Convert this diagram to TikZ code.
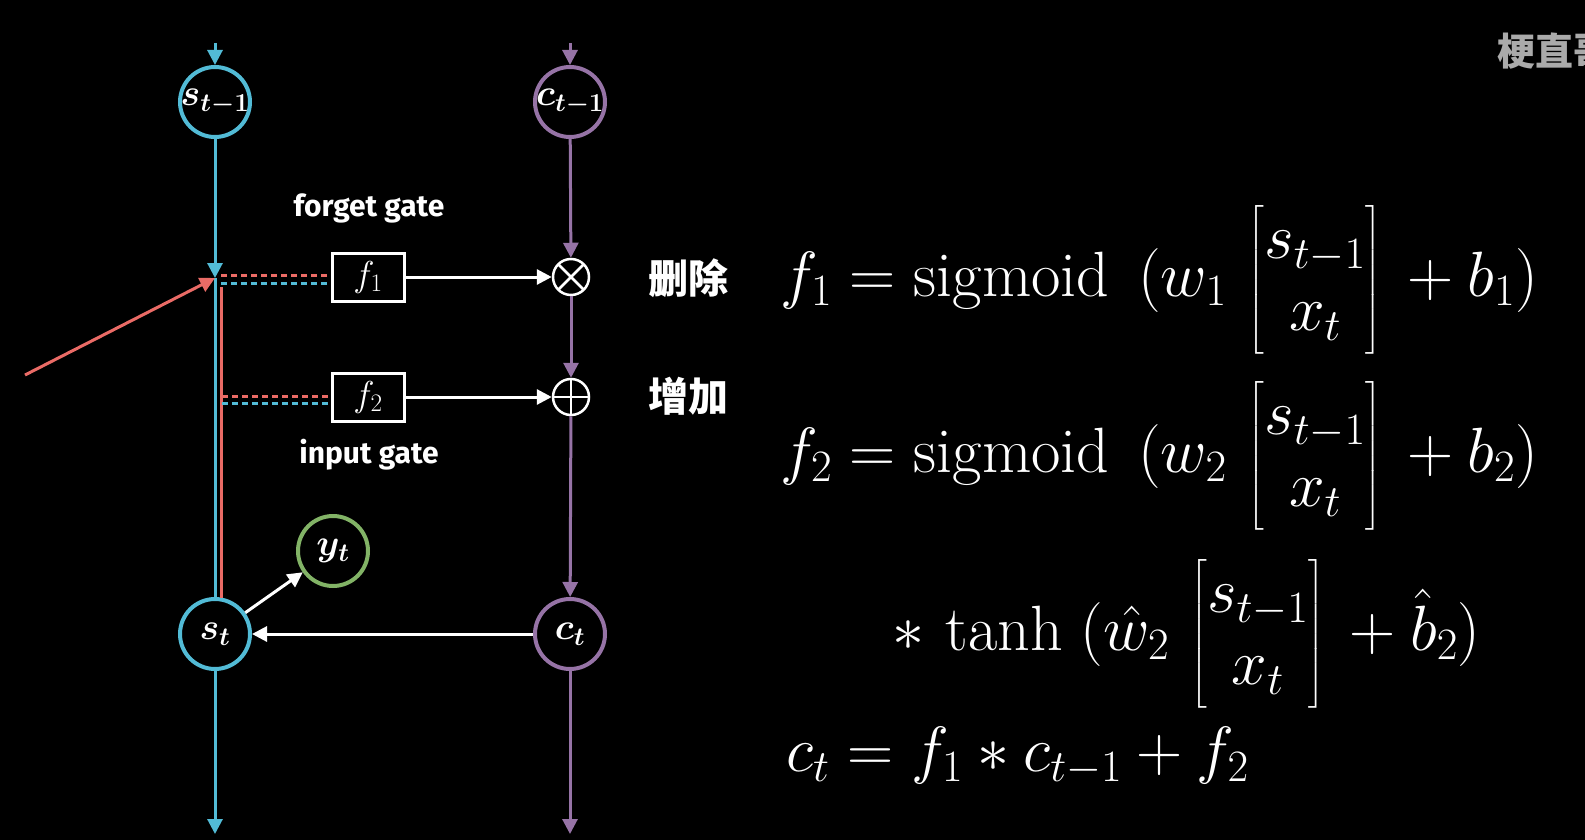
\RequirePackage{fix-cm}
\documentclass[tikz,border=0pt]{standalone}
\usepackage{amsmath}
\usepackage{bm}
\usepackage{fontspec}
\newfontfamily\cjk{Noto Sans CJK SC}
\newfontfamily\handfont{Fira Sans}
\usetikzlibrary{arrows.meta}
\definecolor{cy}{HTML}{52BBD6}
\definecolor{pu}{HTML}{9673A6}
\definecolor{gr}{HTML}{82B366}
\definecolor{rd}{HTML}{EA6B66}
\definecolor{wm}{HTML}{AAAAAA}
\begin{document}
\begin{tikzpicture}[x=1pt,y=-1pt,
  tip/.style={-{Triangle[length=15pt,width=15pt]}},
  cnode/.style={circle, draw=#1, line width=4pt, minimum size=70pt, inner sep=0pt, fill=black, text=white, font=\fontsize{37}{40}\selectfont},
  gbox/.style={draw=white, line width=3pt, minimum width=72pt, minimum height=48pt, inner sep=0pt, fill=black, text=white, font=\fontsize{36}{38}\selectfont},
  opnode/.style={circle, draw=white, line width=2.5pt, minimum size=36pt, inner sep=0pt, fill=black},
  cyl/.style={cy, line width=3pt},
  pul/.style={pu, line width=3pt},
  rdl/.style={rd, line width=3pt},
  wl/.style={white, line width=3pt},
  dashl/.style={line width=3pt, dash pattern=on 6pt off 4pt},
  gatelabel/.style={text=white, font=\handfont\bfseries\fontsize{30}{32}\selectfont},
  cjklabel/.style={text=white, font=\cjk\bfseries\fontsize{40}{44}\selectfont},
  eq/.style={text=white, anchor=west, inner sep=0pt, font=\fontsize{64}{72}\selectfont}
]
\fill[black] (0,0) rectangle (1585,840);
\useasboundingbox (0,0) rectangle (1585,840);

% nodes
\node[cnode=cy] (s0) at (215,102) {\makebox[0pt]{$\bm{s_{t-1}}$}};
\node[cnode=pu] (c0) at (570,102) {\makebox[0pt]{$\bm{c_{t-1}}$}};
\node[cnode=cy] (s1) at (215,634) {\makebox[0pt]{$\bm{s_{t}}$}};
\node[cnode=pu] (c1) at (570,634) {\makebox[0pt]{$\bm{c_{t}}$}};
\node[cnode=gr] (y1) at (333,551) {\makebox[0pt]{$\bm{y_{t}}$}};
\node[gbox] (f1) at (368,277) {$f_1$};
\node[gbox] (f2) at (368,397) {$f_2$};
\node[opnode, path picture={\draw[white,line width=2.5pt] (path picture bounding box.north west) -- (path picture bounding box.south east) (path picture bounding box.north east) -- (path picture bounding box.south west);}] (mul) at (571,277) {};
\node[opnode, path picture={\draw[white,line width=2.5pt] (path picture bounding box.north) -- (path picture bounding box.south) (path picture bounding box.east) -- (path picture bounding box.west);}] (add) at (571,397) {};

% coordinates
\coordinate (sin) at (215,43);
\coordinate (cin) at (570,43);
\coordinate (sout) at (215,834);
\coordinate (cout) at (570,834);
\coordinate (J) at (215,278);
\coordinate (R0) at (25,375);
\coordinate (Rtop) at (221,287);
\coordinate (Rbot) at (221,598);
\coordinate (D1r) at (221,275);
\coordinate (D1c) at (221,283);
\coordinate (D2r) at (222,396);
\coordinate (D2c) at (222,403);

% cyan path
\draw[cyl,tip] (sin) -- (s0);
\draw[cyl,tip] (s0) -- (J);
\draw[rdl] (Rtop) -- (Rbot);
\draw[cyl] (J) -- (s1);
\draw[cyl,tip] (s1) -- (sout);
\draw[rdl,tip] (R0) -- (J);

% purple path
\draw[pul,tip] (cin) -- (c0);
\draw[pul,tip] (c0) -- (mul);
\draw[pul,tip] (mul) -- (add);
\draw[pul,tip] (add) -- (c1);
\draw[pul,tip] (c1) -- (cout);

% dashed inputs
\draw[dashl,rd] (D1r) -- (D1r -| f1.west);
\draw[dashl,cy] (D1c) -- (D1c -| f1.west);
\draw[dashl,rd] (D2r) -- (D2r -| f2.west);
\draw[dashl,cy] (D2c) -- (D2c -| f2.west);

% white arrows
\draw[wl,tip] (f1) -- (mul);
\draw[wl,tip] (f2) -- (add);
\draw[wl,tip] (c1) -- (s1);
\draw[wl,tip] (s1) -- (y1);

% labels
\node[gatelabel] (lforget) at (369,208) {forget gate};
\node[gatelabel] (linput) at (369,455) {input gate};
\node[cjklabel] (ldel) at (688,278) {删除};
\node[cjklabel] (ladd) at (688,396) {增加};
\node[text=wm, anchor=west, font=\cjk\bfseries\fontsize{38}{40}\selectfont] (wmk) at (1494,51) {梗直哥};

% equations
\node[eq] (e1) at (780,280) {$f_1 = \mathrm{sigmoid}\;\,(w_1\,\begin{bmatrix} s_{t-1}\\ x_t\end{bmatrix} \,+ b_1)$};
\node[eq] (e2) at (780,456) {$f_2 = \mathrm{sigmoid}\;\,(w_2\,\begin{bmatrix} s_{t-1}\\ x_t\end{bmatrix} \,+ b_2)$};
\node[eq] (e3) at (892,634) {$\ast\,\tanh\;(\hat{w}_2\,\begin{bmatrix} s_{t-1}\\ x_t\end{bmatrix} \,+ \hat{b}_2)$};
\node[eq] (e4) at (786,756) {$c_t = f_1 \ast c_{t-1} + f_2$};
\end{tikzpicture}
\end{document}
